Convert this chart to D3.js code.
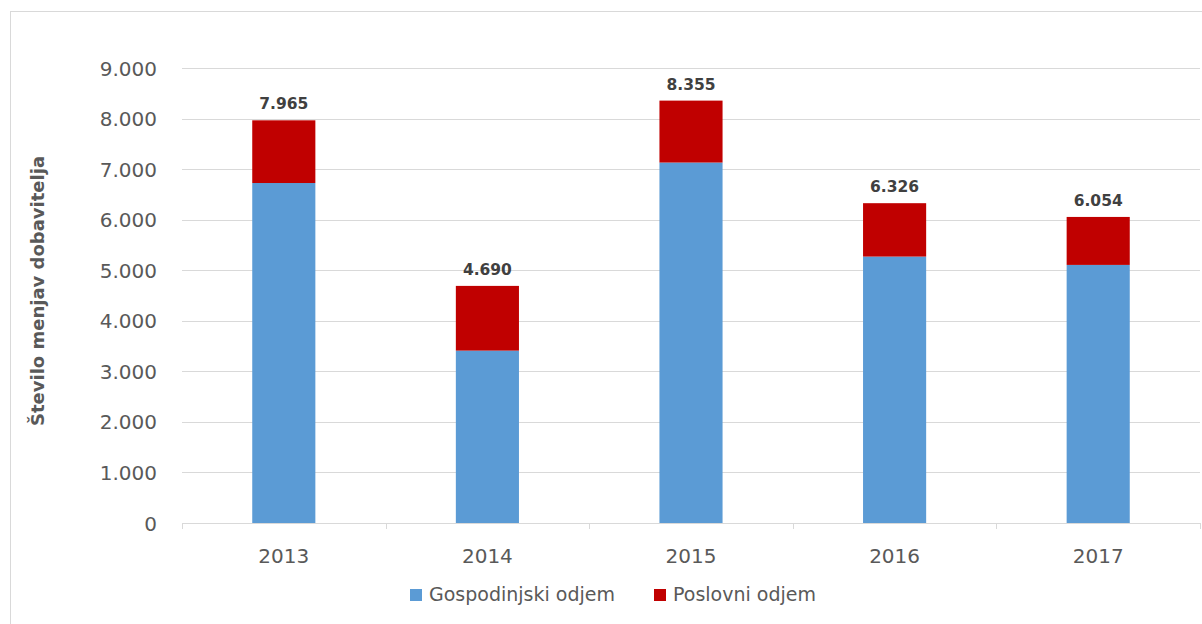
<!DOCTYPE html>
<html><head><meta charset="utf-8">
<script src="https://cdn.jsdelivr.net/npm/d3@7"></script>
<style>body{margin:0;background:#fff}svg{display:block}</style>
</head><body><svg id="c" width="1202" height="624"></svg>
<script>
const categories = ["2013","2014","2015","2016","2017"];
const gospodinjski = [6725, 3410, 7130, 5270, 5105];
const poslovni = [1240, 1280, 1225, 1056, 949];
const totals = [7965, 4690, 8355, 6326, 6054];
const yTicks = [0,1000,2000,3000,4000,5000,6000,7000,8000,9000];
const seriesNames = ["Gospodinjski odjem","Poslovni odjem"];
const colors = ["#5B9BD5","#C00000"];

const svg = d3.select("#c");
const font = "'DejaVu Sans', sans-serif";
const fmt = v => d3.format(",")(v).replace(/,/g,".");

svg.append("rect").attr("x",10.5).attr("y",11.5).attr("width",1220).attr("height",640)
  .attr("fill","none").attr("stroke","#D9D9D9");

const x = d3.scaleBand().domain(categories).range([182,1200]).paddingInner(0.69).paddingOuter(0.345);
const y = d3.scaleLinear().domain([0,9000]).range([523,68]);

const grid = svg.append("g");
grid.selectAll("line").data(yTicks.filter(d=>d>0)).join("line")
  .attr("x1",182).attr("x2",1200).attr("y1",d=>Math.round(y(d))+0.5).attr("y2",d=>Math.round(y(d))+0.5)
  .attr("stroke","#D9D9D9").attr("stroke-width",1);

const yAxis = svg.append("g").attr("transform","translate(160,0)")
  .call(d3.axisLeft(y).tickValues(yTicks).tickFormat(fmt).tickSize(0).tickPadding(3));
yAxis.select(".domain").remove();
yAxis.selectAll("text").attr("font-family",font).attr("font-size",20).attr("fill","#595959").attr("dy","0.35em");

const stack = d3.stack().keys([0,1]).value((d,k)=> k===0 ? gospodinjski[d] : poslovni[d]);
const stacked = stack(d3.range(categories.length));
svg.append("g").selectAll("g").data(stacked).join("g").attr("fill",(d,i)=>colors[i])
  .selectAll("rect").data(d=>d).join("rect")
  .attr("x",(d,i)=>x(categories[i])).attr("width",x.bandwidth())
  .attr("y",d=>y(d[1])).attr("height",d=>y(d[0])-y(d[1]));

// x axis
const step = x.step();
const xg = svg.append("g");
xg.append("line").attr("x1",182).attr("x2",1200).attr("y1",523.5).attr("y2",523.5).attr("stroke","#D9D9D9");
xg.selectAll("line.t").data(d3.range(categories.length+1)).join("line").attr("class","t")
  .attr("x1",i=>Math.round(182+i*step)+0.5).attr("x2",i=>Math.round(182+i*step)+0.5)
  .attr("y1",523).attr("y2",529).attr("stroke","#D9D9D9");
xg.selectAll("text").data(categories).join("text")
  .attr("x",d=>x(d)+x.bandwidth()/2).attr("y",563).attr("text-anchor","middle")
  .attr("font-family",font).attr("font-size",20).attr("fill","#595959").text(d=>d);

// totals labels
svg.append("g").selectAll("text").data(totals).join("text")
  .attr("x",(d,i)=>x(categories[i])+x.bandwidth()/2).attr("y",d=>y(d)-11)
  .attr("text-anchor","middle").attr("font-family",font).attr("font-weight","bold")
  .attr("font-size",15.5).attr("fill","#404040").text(fmt);

// y title
svg.append("text").attr("transform","translate(44,291) rotate(-90)").attr("text-anchor","middle")
  .attr("font-family",font).attr("font-weight","bold").attr("font-size",18).attr("fill","#595959")
  .text("Število menjav dobavitelja");

// legend
const leg = svg.append("g");
const legX = [410, 654];
seriesNames.forEach((n,i)=>{
  leg.append("rect").attr("x",legX[i]).attr("y",589).attr("width",12).attr("height",12).attr("fill",colors[i]);
  leg.append("text").attr("x",legX[i]+19).attr("y",601).attr("font-family",font).attr("font-size",19)
    .attr("fill","#595959").text(n);
});
</script></body></html>
